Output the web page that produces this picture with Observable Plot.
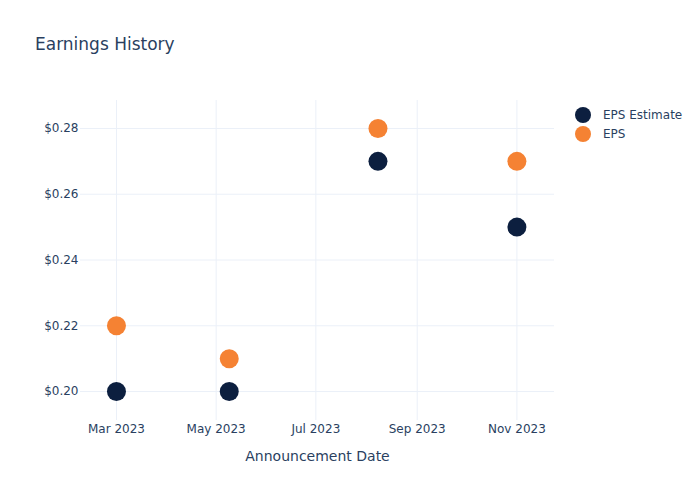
<!DOCTYPE html>
<html>
<head>
<meta charset="utf-8">
<script src="https://cdn.jsdelivr.net/npm/d3@7"></script>
<script src="https://cdn.jsdelivr.net/npm/@observablehq/plot@0.6"></script>
<style>
  body { margin: 0; background: #fff; font-family: "DejaVu Sans", Verdana, sans-serif; }
  #wrap { position: relative; width: 700px; height: 500px; }
  #title { position: absolute; left: 35px; top: 34px; font-size: 17px; color: #2a3f5f; }
  #legend { position: absolute; left: 574px; top: 105px; font-size: 12px; color: #2a3f5f; }
  .li { display: flex; align-items: center; height: 19px; }
  .sw { width: 16px; height: 16px; border-radius: 50%; margin-left: 1px; margin-right: 12px; }
</style>
</head>
<body>
<div id="wrap">
  <div id="title">Earnings History</div>
  <div id="legend"></div>
</div>
<script>
const dates = ["2023-03-01", "2023-05-09", "2023-08-08", "2023-11-01"];
const epsEstimate = [0.20, 0.20, 0.27, 0.25];
const epsActual = [0.22, 0.21, 0.28, 0.27];
const seriesNames = ["EPS Estimate", "EPS"];
const seriesColors = ["#0c1f3f", "#f58233"];
const yTicks = [0.20, 0.22, 0.24, 0.26, 0.28];
const xTicks = ["2023-03-01", "2023-05-01", "2023-07-01", "2023-09-01", "2023-11-01"];

const parse = d3.utcParse("%Y-%m-%d");
const rows = [];
dates.forEach((d, i) => {
  rows.push({date: parse(d), value: epsEstimate[i], series: seriesNames[0]});
  rows.push({date: parse(d), value: epsActual[i], series: seriesNames[1]});
});

const textColor = "#2a3f5f";
const gridColor = "#ebf0f8";

const chart = Plot.plot({
  width: 700,
  height: 500,
  marginLeft: 80,
  marginRight: 146,
  marginTop: 100,
  marginBottom: 80,
  style: {fontFamily: "DejaVu Sans, Verdana, sans-serif", color: textColor, background: "#fff"},
  x: {type: "utc", domain: [parse("2023-02-07"), parse("2023-11-24")]},
  y: {domain: [0.1912, 0.2885]},
  color: {domain: seriesNames, range: seriesColors},
  marks: [
    Plot.gridX(xTicks.map(parse), {stroke: gridColor, strokeOpacity: 1, strokeWidth: 1}),
    Plot.gridY(yTicks, {stroke: gridColor, strokeOpacity: 1, strokeWidth: 1}),
    Plot.axisX(xTicks.map(parse), {
      tickSize: 0, tickPadding: 4, fontSize: 12, fill: textColor,
      tickFormat: d3.utcFormat("%b %Y"),
      label: "Announcement Date", labelAnchor: "center", labelArrow: "none", labelOffset: 40
    }),
    Plot.axisY(yTicks, {
      tickSize: 0, tickPadding: 2, fontSize: 12, fill: textColor,
      tickFormat: d => "$" + d.toFixed(2), label: null
    }),
    Plot.dot(rows, {x: "date", y: "value", fill: "series", r: 9.5, stroke: null})
  ]
});

chart.querySelectorAll("g[aria-label='x-axis label'] text").forEach(t => {
  t.setAttribute("font-size", "14");
});

const wrap = document.getElementById("wrap");
wrap.insertBefore(chart, wrap.firstChild);
chart.style.position = "absolute";
chart.style.left = "0";
chart.style.top = "0";

const legend = document.getElementById("legend");
seriesNames.forEach((n, i) => {
  const row = document.createElement("div");
  row.className = "li";
  row.innerHTML = `<span class="sw" style="background:${seriesColors[i]}"></span><span>${n}</span>`;
  legend.appendChild(row);
});
</script>
</body>
</html>
